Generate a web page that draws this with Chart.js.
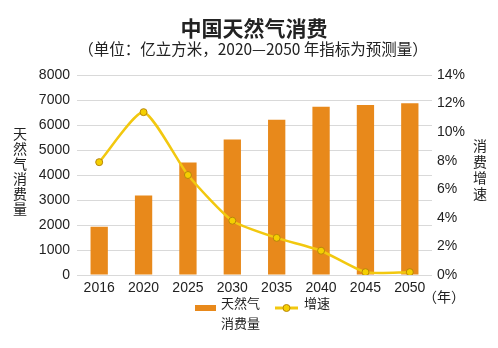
<!DOCTYPE html>
<html>
<head>
<meta charset="utf-8">
<script src="https://cdn.jsdelivr.net/npm/chart.js@4"></script>
<style>
html,body{margin:0;padding:0;background:#fff;}
#wrap{position:relative;width:498px;height:348px;}
</style>
</head>
<body>
<div id="wrap"><canvas id="c" width="498" height="348"></canvas></div>
<script>
const years = ['2016','2020','2025','2030','2035','2040','2045','2050'];
const consumption = [1930, 3180, 4500, 5420, 6210, 6730, 6800, 6870];
const growth = [7.9, 11.4, 7.0, 3.8, 2.6, 1.7, 0.2, 0.2];
const leftTicks = [0,1000,2000,3000,4000,5000,6000,7000,8000];
const rightTicks = [0,2,4,6,8,10,12,14];
const titleText = '中国天然气消费';
const subtitleText = '（单位：亿立方米，2020—2050 年指标为预测量）';
const leftTitle = ['天','然','气','消','费','量'];
const rightTitle = ['消','费','增','速'];
const barLegend = ['天然气','消费量'];
const lineLegend = '增速';
const xUnit = '（年）';

const ORANGE = '#E8891B';
const YELLOW = '#F2C80F';
const CJK = '"Noto Sans CJK SC", sans-serif';
const NUM = '"Liberation Sans", Arial, sans-serif';

const textPlugin = {
  id: 'texts',
  afterDraw(chart) {
    const ctx = chart.ctx;
    ctx.save();
    ctx.fillStyle = '#222';
    ctx.textAlign = 'center';
    ctx.textBaseline = 'middle';
    ctx.font = 'bold 21px ' + CJK;
    ctx.fillText(titleText, 254, 28);
    ctx.font = '15.5px ' + CJK;
    ctx.fillText(subtitleText, 253, 49);
    ctx.font = '14px ' + CJK;
    leftTitle.forEach((ch, i) => ctx.fillText(ch, 20, 134 + i * 15));
    rightTitle.forEach((ch, i) => ctx.fillText(ch, 480, 146 + i * 16));
    ctx.font = '14px ' + CJK;
    ctx.fillText(xUnit, 444, 297);
    // legend
    ctx.font = '13px ' + CJK;
    ctx.textAlign = 'left';
    ctx.fillStyle = ORANGE;
    ctx.fillRect(195, 305, 21, 6);
    ctx.fillStyle = '#222';
    ctx.fillText(barLegend[0], 221, 303);
    ctx.fillText(barLegend[1], 221, 323);
    ctx.strokeStyle = YELLOW;
    ctx.lineWidth = 3;
    ctx.beginPath(); ctx.moveTo(275, 308); ctx.lineTo(298, 308); ctx.stroke();
    ctx.beginPath(); ctx.arc(286.5, 308, 3.5, 0, Math.PI * 2);
    ctx.fillStyle = '#F5D000'; ctx.fill();
    ctx.lineWidth = 1; ctx.strokeStyle = '#B8860B'; ctx.stroke();
    ctx.fillStyle = '#222';
    ctx.fillText(lineLegend, 304, 303);
    ctx.restore();
  }
};

new Chart(document.getElementById('c'), {
  data: {
    labels: years,
    datasets: [
      {
        type: 'line',
        label: lineLegend,
        data: growth,
        yAxisID: 'y2',
        borderColor: YELLOW,
        borderWidth: 2.5,
        backgroundColor: '#F5D000',
        pointBackgroundColor: '#F5D000',
        pointBorderColor: '#B8860B',
        pointBorderWidth: 1,
        pointRadius: 3.5,
        tension: 0.2,
        order: 0
      },
      {
        type: 'bar',
        label: barLegend.join(''),
        data: consumption,
        yAxisID: 'y',
        backgroundColor: ORANGE,
        barPercentage: 0.39,
        categoryPercentage: 1,
        order: 1
      }
    ]
  },
  options: {
    responsive: false,
    animation: false,
    devicePixelRatio: 1,
    layout: { padding: { top: 75, left: 0, right: 0, bottom: 0 } },
    plugins: { legend: { display: false }, tooltip: { enabled: false } },
    scales: {
      x: {
        grid: { display: false, drawTicks: false },
        border: { display: false },
        ticks: { color: '#222', font: { family: NUM, size: 14 }, padding: 5, maxRotation: 0 },
        afterFit(s) { s.height = 73; }
      },
      y: {
        position: 'left',
        min: 0, max: 8000,
        afterBuildTicks(s) { s.ticks = leftTicks.map(v => ({ value: v })); },
        grid: { color: '#D9D9D9', drawTicks: false, lineWidth: 1 },
        border: { display: false },
        ticks: { color: '#222', font: { family: NUM, size: 14 }, padding: 7, callback: v => String(v) },
        afterFit(s) { s.width = 77; }
      },
      y2: {
        position: 'right',
        min: 0, max: 14,
        afterBuildTicks(s) { s.ticks = rightTicks.map(v => ({ value: v })); },
        grid: { display: false, drawTicks: false },
        border: { display: false },
        ticks: { color: '#222', font: { family: NUM, size: 14 }, padding: 5, callback: v => v + '%' },
        afterFit(s) { s.width = 66; }
      }
    }
  },
  plugins: [textPlugin]
});
</script>
</body>
</html>
